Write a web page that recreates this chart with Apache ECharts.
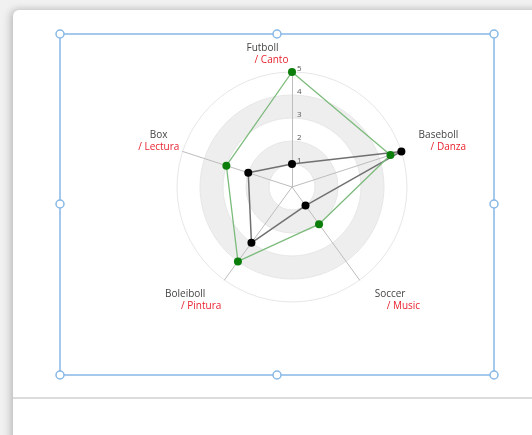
<!DOCTYPE html>
<html>
<head>
<meta charset="utf-8">
<script src="https://cdn.jsdelivr.net/npm/echarts@6/dist/echarts.min.js"></script>
<style>
  html, body { margin: 0; padding: 0; width: 532px; height: 435px; overflow: hidden; background: #f1f1f1; }
  #card { position: absolute; left: 13px; top: 10px; width: 540px; height: 440px; background: #fff;
          border-radius: 6px; box-shadow: -3px 0 8px rgba(0,0,0,0.18), 0 -1px 6px rgba(0,0,0,0.08); }
  #rule { position: absolute; left: 13px; top: 397px; width: 519px; height: 2px; background: #dcdcdc; }
  #chart { position: absolute; left: 0; top: 0; width: 532px; height: 435px; }
</style>
</head>
<body>
<div id="card"></div>
<div id="rule"></div>
<div id="chart"></div>
<script>
// Indicators, listed in the radar's drawing order (counter-clockwise from the top)
const categories = ['Futboll', 'Box', 'Boleiboll', 'Soccer', 'Baseboll'];
const subCategories = ['/ Canto', '/ Lectura', '/ Pintura', '/ Music', '/ Danza'];
const maxValue = 5;

// Scores per indicator, same order as categories
const seriesGreen = [5, 3, 4, 2, 4.5];
const seriesBlack = [1, 2, 3, 1, 5];

const FONT = '"Open Sans", "Noto Sans", sans-serif';

// Per-indicator name layout: padding of each line [top, right, bottom, left],
// plus blank space above / below the two lines to nudge the block vertically.
const nameLayout = [
  { n: [0, 59, 0, 0], s: [0, 41, 0, 0], above: 0, below: 0 },   // Futboll (centred)
  { n: [0, 20, 0, 0], s: [0, 8, 0, 0],  above: 0, below: 24 },  // Box (right aligned)
  { n: [0, 22, 0, 0], s: [0, 6, 0, 0],  above: 49, below: 0 },  // Boleiboll (right aligned)
  { n: [0, 0, 0, 18], s: [0, 0, 0, 30], above: 49, below: 0 },  // Soccer (left aligned)
  { n: [0, 0, 0, 22], s: [0, 0, 0, 34], above: 0, below: 24 }   // Baseboll (left aligned)
];

const rich = {};
nameLayout.forEach((l, i) => {
  rich['n' + i] = { fontSize: 10, color: '#444', fontFamily: FONT, lineHeight: 12, padding: l.n };
  rich['s' + i] = { fontSize: 10, color: '#e8232f', fontFamily: FONT, lineHeight: 12, padding: l.s };
  rich['a' + i] = { fontSize: 1, lineHeight: Math.max(l.above, 1) };
  rich['b' + i] = { fontSize: 1, lineHeight: Math.max(l.below, 1) };
});

const chart = echarts.init(document.getElementById('chart'), null, { renderer: 'canvas' });

const handles = [[60, 34], [277, 34], [494, 34], [60, 204], [494, 204], [60, 375], [277, 375], [494, 375]];

chart.setOption({
  backgroundColor: 'transparent',
  animation: false,
  graphic: [
    { type: 'rect', shape: { x: 60, y: 34, width: 434, height: 341 }, style: { fill: 'none', stroke: '#88b8e6', lineWidth: 1.5 }, z: 100 }
  ].concat(handles.map(p => ({
    type: 'circle', shape: { cx: p[0], cy: p[1], r: 4 }, style: { fill: '#fff', stroke: '#88b8e6', lineWidth: 1.5 }, z: 101
  }))),
  radar: {
    center: [292, 187],
    radius: 115,
    startAngle: 90,
    shape: 'circle',
    splitNumber: 5,
    indicator: categories.map((c, i) => ({
      name: c, max: maxValue, min: 0,
      axisLabel: i === 0 ? { show: true } : { show: false }
    })),
    axisName: {
      formatter: function (name) {
        const i = categories.indexOf(name);
        const l = nameLayout[i];
        let txt = '{n' + i + '|' + name + '}\n{s' + i + '|' + subCategories[i] + '}';
        if (l.above) txt = '{a' + i + '|\u00a0}\n' + txt;
        if (l.below) txt = txt + '\n{b' + i + '|\u00a0}';
        return txt;
      },
      rich: rich
    },
    nameGap: -5,
    axisLine: { lineStyle: { color: '#bdbdbd', width: 1 } },
    splitLine: { lineStyle: { color: '#e6e6e6', width: 1 } },
    splitArea: { areaStyle: { color: ['#ffffff', '#eeeeee', '#ffffff', '#eeeeee', '#ffffff'] } },
    axisLabel: {
      show: false, fontSize: 8, color: '#555', fontFamily: FONT,
      showMinLabel: false, margin: -5, align: 'left', verticalAlign: 'bottom', lineHeight: 6
    }
  },
  series: [{
    type: 'radar',
    symbol: 'circle',
    symbolSize: 8,
    z: 2,
    data: [
      { value: seriesBlack, lineStyle: { color: '#707070', width: 1.5 }, itemStyle: { color: '#000' } }
    ]
  }, {
    type: 'radar',
    symbol: 'circle',
    symbolSize: 8,
    z: 3,
    data: [
      { value: seriesGreen, lineStyle: { color: '#7dbb7d', width: 1.3 }, itemStyle: { color: '#0a7d0a' } }
    ]
  }]
});
</script>
</body>
</html>
